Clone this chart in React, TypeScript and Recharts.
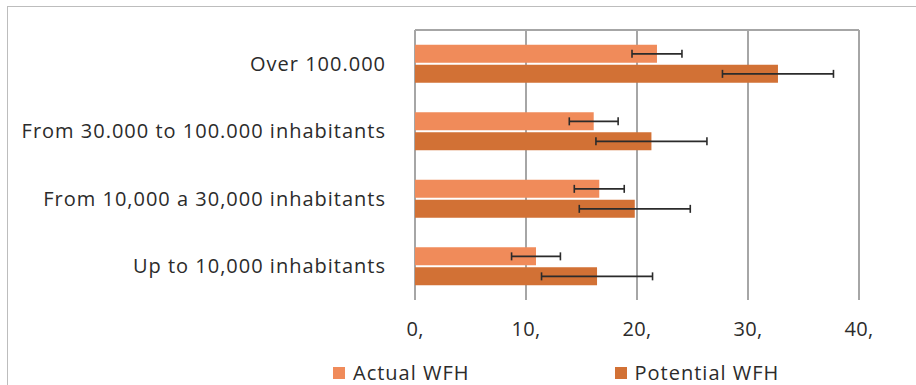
import React from "react"
import { BarChart, Bar, XAxis, YAxis, CartesianGrid, ErrorBar, Legend } from "recharts"

const categories = [
  "Over 100.000",
  "From 30.000 to 100.000 inhabitants",
  "From 10,000 a 30,000 inhabitants",
  "Up to 10,000 inhabitants",
]
const actualWfh = [21.8, 16.1, 16.6, 10.9]
const actualErr = [2.25, 2.2, 2.25, 2.2]
const potentialWfh = [32.7, 21.3, 19.8, 16.4]
const potentialErr = [5, 5, 5, 5]
const xTicks = [0, 10, 20, 30, 40]
const frameTicks = [0, 1, 2, 3, 4]

const data = categories.map((name, i) => ({
  name,
  actual: actualWfh[i],
  actualErr: actualErr[i],
  potential: potentialWfh[i],
  potentialErr: potentialErr[i],
}))

const FONT = "'Open Sans', sans-serif"
const GRID = "#a6a6a6"
const TEXT = "#2b2b2b"

const renderLegend = (props: any) => (
  <div style={{ display: "flex", fontFamily: FONT, fontSize: 20, letterSpacing: 1, color: TEXT, lineHeight: "22px" }}>
    {props.payload.map((p: any, i: number) => (
      <div key={p.value} style={{ display: "flex", alignItems: "center", marginRight: i === 0 ? 145 : 0 }}>
        <span style={{ display: "inline-block", width: 12, height: 12, background: p.color, marginRight: 8 }} />
        <span>{p.value}</span>
      </div>
    ))}
  </div>
)

export default function App() {
  return (
    <div style={{ position: "absolute", left: 0, top: 0, width: 916, height: 385, background: "#fff" }}>
      <div
        style={{
          position: "absolute",
          left: 7,
          top: 6,
          right: 0,
          bottom: 0,
          borderLeft: "1.5px solid #bdbdbd",
          borderTop: "1.5px solid #bdbdbd",
        }}
      />
      <BarChart
        width={916}
        height={385}
        data={data}
        layout="vertical"
        margin={{ top: 0, right: 57, bottom: 0, left: 0 }}
        barCategoryGap="22%"
        barGap={2}
      >
        <CartesianGrid xAxisId="bottom" yAxisId="cat" horizontal={false} stroke={GRID} strokeWidth={2} />
        <XAxis
          xAxisId="top"
          orientation="top"
          type="number"
          domain={[0, 40]}
          ticks={xTicks}
          tick={false}
          tickSize={7}
          height={30}
          axisLine={{ stroke: GRID, strokeWidth: 2 }}
          tickLine={{ stroke: GRID, strokeWidth: 2 }}
        />
        <XAxis
          xAxisId="bottom"
          type="number"
          domain={[0, 40]}
          ticks={xTicks}
          tickFormatter={(v) => `${v},`}
          axisLine={false}
          tickLine={false}
          tickSize={0}
          tickMargin={22}
          height={63}
          tick={{ fill: TEXT, fontSize: 20, fontFamily: FONT, letterSpacing: 0.3 }}
        />
        <YAxis
          yAxisId="frame"
          type="number"
          domain={[0, 4]}
          ticks={frameTicks}
          tick={false}
          tickSize={8}
          width={0}
          axisLine={{ stroke: GRID, strokeWidth: 2 }}
          tickLine={{ stroke: GRID, strokeWidth: 2 }}
        />
        <YAxis
          yAxisId="cat"
          type="category"
          dataKey="name"
          width={415}
          axisLine={false}
          tickLine={false}
          tickSize={0}
          tickMargin={29}
          tick={{ fill: TEXT, fontSize: 20, fontFamily: FONT, letterSpacing: 1 }}
        />
        <Legend
          content={renderLegend}
          wrapperStyle={{ left: 333, top: 362, width: 560, height: 22 }}
        />
        <Bar dataKey="actual" name="Actual WFH" xAxisId="bottom" yAxisId="cat" fill="#f08b5a" isAnimationActive={false}>
          <ErrorBar dataKey="actualErr" direction="x" width={4} stroke="#2b2b2b" strokeWidth={1.6} />
        </Bar>
        <Bar dataKey="potential" name="Potential WFH" xAxisId="bottom" yAxisId="cat" fill="#d27135" isAnimationActive={false}>
          <ErrorBar dataKey="potentialErr" direction="x" width={4} stroke="#2b2b2b" strokeWidth={1.6} />
        </Bar>
      </BarChart>
    </div>
  )
}
